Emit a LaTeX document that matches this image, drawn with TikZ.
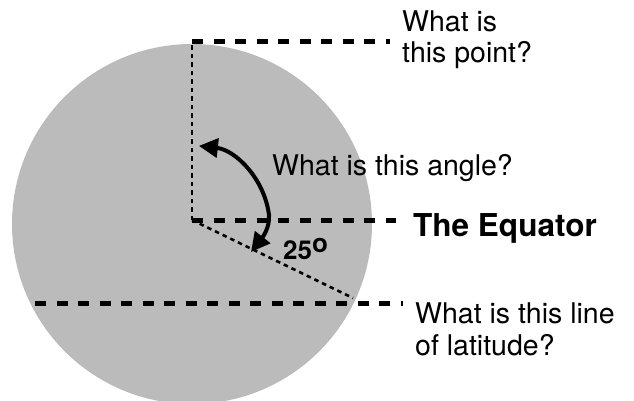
\documentclass[tikz,border=0pt]{standalone}
\usepackage{fontspec}
\setmainfont{TeX Gyre Heros}
\usetikzlibrary{arrows.meta}
\definecolor{globe}{RGB}{187,187,187}
\begin{document}
\begin{tikzpicture}[x=1pt,y=-1pt,
  thickdash/.style={line width=5pt, dash pattern=on 11pt off 10.5pt},
  thindash/.style={line width=2.6pt, dash pattern=on 4.5pt off 4pt},
  anglearrow/.style={line width=4pt, {Triangle[length=19pt,width=19pt]}-{Triangle[length=19pt,width=19pt]}},
  lbl/.style={anchor=base west, inner sep=0pt, font=\fontsize{28.5}{31}\selectfont},
  boldlbl/.style={anchor=base west, inner sep=0pt, font=\fontsize{31.5}{36}\selectfont\bfseries},
  deglbl/.style={anchor=base west, inner sep=0pt, font=\fontsize{26}{30}\selectfont\bfseries}]
\useasboundingbox (0,0) rectangle (634,401);
\clip (0,0) rectangle (634,401);
% globe
\fill[globe] (192,224) circle[radius=180];
% key points
\coordinate (C) at (192,220);
\coordinate (P) at (192,42);
\coordinate (Pend) at (390,42);
\coordinate (Eend) at (396,220);
\coordinate (S) at (353,298);
\coordinate (L1) at (35,303);
\coordinate (L2) at (403,303);
\coordinate (Alow) at (251,252);
\coordinate (Amid) at (269,215);
% lines
\draw[thindash] (C) -- (P);
\draw[thickdash] (P) -- (Pend);
\draw[thickdash] (C) -- (Eend);
\draw[thindash] (C) -- (S);
\draw[thickdash] (L1) -- (L2);
% angle arrow
\draw[anglearrow] (Alow) .. controls (262,238) and (270,228) .. (Amid)
  arc[start angle=-7.2, end angle=-83.6, radius=79.6];
% labels
\node[lbl] (q1a) at (402,32) {What is};
\node[lbl] (q1b) at (402,63) {this point?};
\node[lbl] (q2) at (272,175) {What is this angle?};
\node[boldlbl] (eq) at (413,236) {The Equator};
\node[deglbl] (deg) at (283,259) {25\raisebox{7pt}{o}};
\node[lbl] (q3a) at (415,323) {What is this line};
\node[lbl] (q3b) at (415,355) {of latitude?};
\end{tikzpicture}
\end{document}
